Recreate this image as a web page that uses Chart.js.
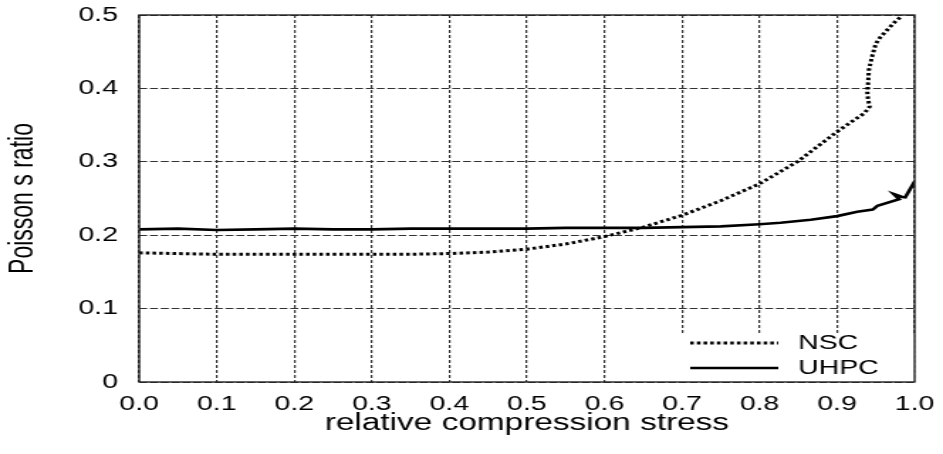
<!DOCTYPE html>
<html>
<head>
<meta charset="utf-8">
<script src="https://cdn.jsdelivr.net/npm/chart.js@4/dist/chart.umd.min.js"></script>
<style>
  html, body { margin: 0; padding: 0; background: #fff; }
</style>
</head>
<body>
<!-- the reference is a horizontally stretched plot, so the canvas is drawn narrow and stretched -->
<canvas id="chart" width="664" height="454" style="width:943px;height:454px;display:block"></canvas>
<script>
// values
const nscX = [0, 0.05, 0.1, 0.15, 0.2, 0.25, 0.3, 0.35, 0.4, 0.45, 0.5, 0.55, 0.6, 0.65, 0.7, 0.75, 0.8, 0.85, 0.88, 0.9, 0.922, 0.935, 0.942, 0.94, 0.939, 0.94, 0.941, 0.945, 0.95, 0.956, 0.965, 0.975, 0.984];
const nscY = [0.176, 0.175, 0.174, 0.174, 0.174, 0.174, 0.174, 0.174, 0.175, 0.177, 0.181, 0.188, 0.198, 0.211, 0.227, 0.247, 0.27, 0.301, 0.325, 0.341, 0.357, 0.366, 0.375, 0.385, 0.395, 0.407, 0.425, 0.443, 0.461, 0.47, 0.48, 0.491, 0.499];

const uhpcX = [0, 0.05, 0.1, 0.15, 0.2, 0.25, 0.3, 0.35, 0.4, 0.45, 0.5, 0.55, 0.6, 0.65, 0.7, 0.75, 0.8, 0.827, 0.866, 0.9, 0.926, 0.946, 0.952, 0.98, 0.973, 0.984, 0.988, 1.0];
const uhpcY = [0.208, 0.209, 0.207, 0.208, 0.209, 0.208, 0.208, 0.209, 0.209, 0.209, 0.209, 0.21, 0.21, 0.21, 0.211, 0.212, 0.215, 0.217, 0.221, 0.226, 0.232, 0.235, 0.24, 0.249, 0.256, 0.252, 0.2516, 0.273];

const seriesNames = ['NSC', 'UHPC'];
const xTickLabels = ['0.0', '0.1', '0.2', '0.3', '0.4', '0.5', '0.6', '0.7', '0.8', '0.9', '1.0'];
const yTickLabels = ['0', '0.1', '0.2', '0.3', '0.4', '0.5'];
const xTitle = 'relative compression stress';
const yTitle = 'Poisson s ratio';

const toPoints = (xs, ys) => xs.map((x, i) => ({ x: x, y: ys[i] }));

const FONT = "'Liberation Sans', Arial, Helvetica, sans-serif";

// legend drawn inside the plot, bottom right, on a white patch
const insideLegend = {
  id: 'insideLegend',
  afterDatasetsDraw(chart) {
    const { ctx, chartArea } = chart;
    const r = chartArea.right, b = chartArea.bottom;
    ctx.save();
    ctx.fillStyle = '#fff';
    ctx.fillRect(r - 165, b - 49, 165, 49);
    chart.data.datasets.forEach((ds, i) => {
      const y = b - 39 + i * 25;
      ctx.beginPath();
      ctx.setLineDash(ds.borderDash || []);
      ctx.lineWidth = ds.borderWidth;
      ctx.strokeStyle = ds.borderColor;
      ctx.moveTo(r - 158, y);
      ctx.lineTo(r - 96, y);
      ctx.stroke();
      ctx.setLineDash([]);
      ctx.fillStyle = '#000';
      ctx.font = '20px ' + FONT;
      ctx.textBaseline = 'middle';
      ctx.textAlign = 'left';
      ctx.fillText(ds.label, r - 82, y);
    });
    ctx.restore();
  }
};

// solid frame round the plot area
const frame = {
  id: 'frame',
  afterDraw(chart) {
    const { ctx, chartArea } = chart;
    ctx.save();
    ctx.strokeStyle = '#222';
    ctx.lineWidth = 1.4;
    ctx.strokeRect(chartArea.left, chartArea.top, chartArea.right - chartArea.left, chartArea.bottom - chartArea.top);
    ctx.restore();
  }
};

new Chart(document.getElementById('chart'), {
  type: 'scatter',
  data: {
    datasets: [
      {
        label: seriesNames[0],
        data: toPoints(nscX, nscY),
        showLine: true,
        borderColor: '#000',
        borderWidth: 3,
        borderDash: [2.5, 2.2],
        pointRadius: 0,
        tension: 0
      },
      {
        label: seriesNames[1],
        data: toPoints(uhpcX, uhpcY),
        showLine: true,
        borderColor: '#000',
        borderWidth: 2.6,
        pointRadius: 0,
        tension: 0
      }
    ]
  },
  options: {
    responsive: false,
    devicePixelRatio: 1,
    animation: false,
    layout: { padding: 0 },
    plugins: {
      legend: { display: false },
      tooltip: { enabled: false }
    },
    scales: {
      x: {
        type: 'linear',
        min: 0,
        max: 1,
        afterFit: s => { s.height = 72; s.paddingLeft = 0; s.paddingRight = 20; },
        ticks: {
          stepSize: 0.1,
          padding: 10,
          color: '#000',
          font: { size: 20, family: FONT },
          maxRotation: 0,
          callback: (v, i) => xTickLabels[i]
        },
        grid: {
          drawTicks: false,
          color: '#333',
          lineWidth: 1.2
        },
        border: { display: false, dash: [3, 2] },
        title: {
          display: true,
          text: xTitle,
          color: '#000',
          font: { size: 23.5, family: FONT },
          padding: { top: 0, bottom: 16 }
        }
      },
      y: {
        type: 'linear',
        min: 0,
        max: 0.5,
        afterFit: s => { s.width = 98; s.paddingTop = 15; s.paddingBottom = 0; },
        ticks: {
          stepSize: 0.1,
          padding: 15,
          color: '#000',
          font: { size: 20, family: FONT },
          callback: (v, i) => yTickLabels[i]
        },
        grid: {
          drawTicks: false,
          color: '#333',
          lineWidth: 1
        },
        border: { display: false, dash: [5.6, 2] },
        title: {
          display: true,
          text: yTitle,
          color: '#000',
          font: { size: 23, family: FONT },
          padding: { top: 3, bottom: 0 }
        }
      }
    }
  },
  plugins: [insideLegend, frame]
});
</script>
</body>
</html>
